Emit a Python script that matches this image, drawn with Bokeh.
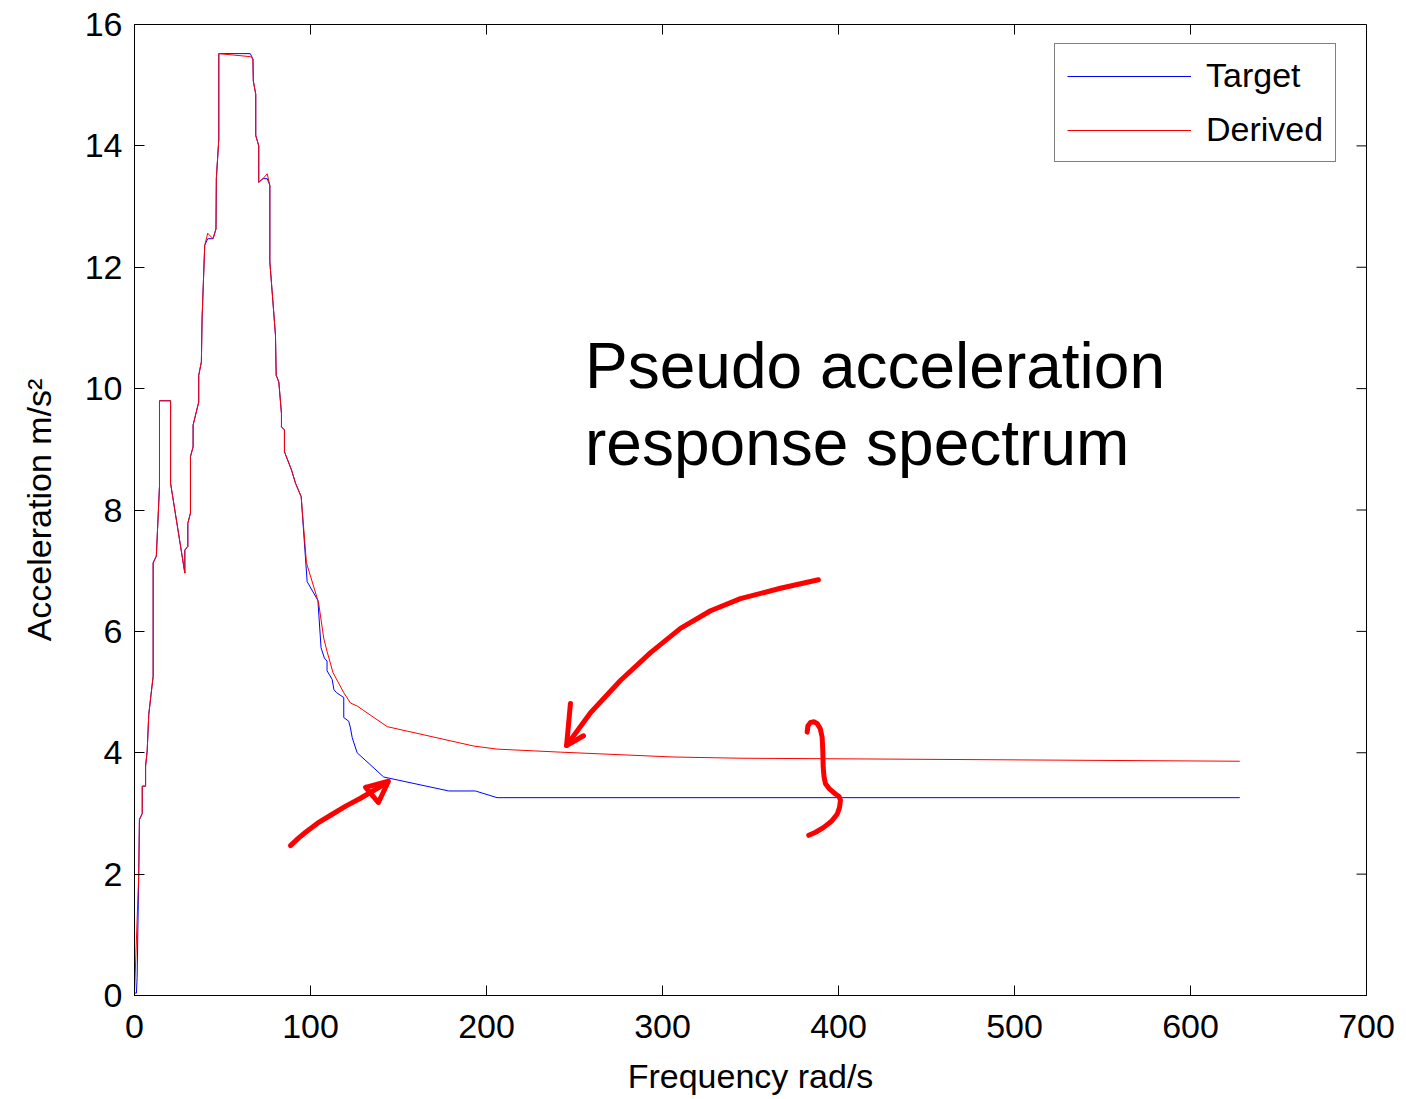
from bokeh.plotting import figure
from bokeh.models import Range1d, FixedTicker, Legend, LegendItem
from bokeh.core.properties import value
from bokeh.embed import file_html
from bokeh.resources import INLINE

# ---- data ----
target_freq = [0, 1.1, 1.5, 2.4, 2.8, 4.4, 4.4, 6.3, 6.3, 7.2, 8.1, 9.4, 10.6, 10.6, 12.4,
               14.2, 14.2, 20.5, 20.5, 28.6, 28.6, 30.3, 30.3, 31.8, 31.8, 33.3, 33.3,
               36.5, 36.5, 38.0, 38.4, 39.9, 41.6, 44.6, 46.3, 46.5, 47.9, 47.9, 65.8,
               67.3, 67.5, 68.9, 68.9, 70.6, 70.6, 73.0, 75.4, 76.9, 76.9, 80.1, 80.5,
               82.0, 83.5, 83.5, 85.2, 85.2, 89.2, 91.5, 94.7, 98.1, 104.2, 106.0, 107.9,
               109.4, 109.4, 112.3, 113.3, 114.8, 118.9, 118.9, 121.7, 122.7, 123.7,
               126.5, 141.6, 178.6, 193.7, 206.0, 628.0]
target_acc = [0.04, 0.04, 0.30, 2.00, 2.90, 3.00, 3.45, 3.45, 3.78, 4.03, 4.63, 4.96, 5.26, 7.13, 7.24,
              8.39, 9.80, 9.80, 8.44, 6.96, 7.34, 7.40, 7.78, 7.95, 8.88, 9.04, 9.40,
              9.78, 10.22, 10.44, 11.16, 12.36, 12.47, 12.47, 12.63, 13.46, 14.11, 15.52, 15.52,
              15.43, 15.07, 14.85, 14.17, 14.00, 13.40, 13.46, 13.46, 13.35, 12.09, 10.88, 10.22,
              10.11, 9.59, 9.37, 9.32, 8.96, 8.66, 8.44, 8.22, 6.82, 6.51, 5.73, 5.56,
              5.51, 5.35, 5.21, 5.04, 4.99, 4.91, 4.58, 4.52, 4.41, 4.25,
              4.00, 3.60, 3.37, 3.37, 3.26, 3.26]

derived_freq = [0, 2.4, 2.8, 4.4, 4.4, 6.3, 6.3, 7.2, 8.1, 9.4, 10.6, 10.6, 12.4,
                14.2, 14.2, 20.5, 20.5, 28.6, 28.6, 30.3, 30.3, 31.8, 31.8, 33.3, 33.3,
                36.5, 36.5, 38.0, 38.4, 39.9, 41.6, 44.6, 46.3, 46.5, 47.9, 47.9, 65.8,
                67.3, 67.5, 68.9, 68.9, 70.6, 70.6, 73.0, 75.4, 76.9, 76.9, 80.1, 80.5,
                82.0, 83.5, 83.5, 85.2, 85.2, 89.2, 91.5, 94.7, 97.7, 104.6, 107.5,
                109.4, 112.8, 118.9, 122.7, 126.5, 143.6, 192.8, 206.0, 242.0, 306.0,
                344.0, 628.0]
derived_acc = [0.03, 2.00, 2.90, 3.00, 3.45, 3.45, 3.78, 4.03, 4.63, 4.96, 5.26, 7.13, 7.24,
               8.39, 9.80, 9.80, 8.44, 6.96, 7.34, 7.40, 7.78, 7.95, 8.88, 9.04, 9.40,
               9.78, 10.22, 10.44, 11.16, 12.36, 12.56, 12.47, 12.63, 13.46, 14.11, 15.52, 15.47,
               15.43, 15.07, 14.85, 14.17, 14.00, 13.40, 13.46, 13.54, 13.35, 12.09, 10.88, 10.22,
               10.11, 9.59, 9.37, 9.32, 8.96, 8.66, 8.44, 8.22, 7.13, 6.47, 5.89,
               5.67, 5.32, 4.99, 4.82, 4.77, 4.43, 4.11, 4.06, 4.01, 3.93,
               3.91, 3.86]

x_ticks = [0, 100, 200, 300, 400, 500, 600, 700]
y_ticks = [0, 2, 4, 6, 8, 10, 12, 14, 16]

# hand-drawn annotation strokes (data coordinates)
arrow1_x = [388.6, 367.0, 344.3, 327.3, 310.2, 293.2, 276.1, 259.1, 245.5]
arrow1_y = [6.85, 6.71, 6.54, 6.34, 6.05, 5.65, 5.19, 4.66, 4.12]
head1_x = [247.7, 245.5, 255.1]
head1_y = [4.81, 4.12, 4.28]
arrow2_x = [88.6, 93.0, 97.2, 104.0, 111.4, 120.0, 128.4, 142.6]
arrow2_y = [2.47, 2.59, 2.69, 2.84, 2.97, 3.12, 3.25, 3.49]
head2_x = [131.3, 144.3, 138.6, 131.3]
head2_y = [3.43, 3.53, 3.18, 3.43]
brace_x = [382.2, 382.6, 384.1, 386.2, 387.9, 389.6, 390.7, 391.1, 391.3, 391.8, 392.6,
           395.0, 398.3, 400.3, 401.1, 400.6, 399.3, 396.0, 391.6, 387.0, 383.1]
brace_y = [4.34, 4.44, 4.50, 4.51, 4.48, 4.40, 4.26, 4.02, 3.76, 3.60, 3.49,
           3.40, 3.32, 3.28, 3.22, 3.10, 2.99, 2.87, 2.77, 2.69, 2.64]

title_lines = ["Pseudo acceleration", "response spectrum"]
title_x = [256.0, 256.0]
title_y = [10.38, 9.11]

FONT = "Liberation Sans"
FS = "34px"

W, H = 1406, 1099
BL, BR, BT, BB = 134, 40, 24, 104
p = figure(width=W, height=H, output_backend="svg", toolbar_location=None,
           x_range=Range1d(0, 700), y_range=Range1d(0, 16),
           min_border_left=BL, min_border_right=BR, min_border_top=BT, min_border_bottom=BB)
p.grid.visible = False
p.outline_line_color = "black"
p.outline_line_alpha = 1.0
p.background_fill_color = "white"
p.border_fill_color = "white"

for ax, ticks in ((p.xaxis[0], x_ticks), (p.yaxis[0], y_ticks)):
    ax.ticker = FixedTicker(ticks=ticks)
    ax.major_tick_in = 10
    ax.major_tick_out = 0
    ax.minor_tick_line_color = None
    ax.axis_line_color = "black"
    ax.major_tick_line_color = "black"
    ax.major_label_text_font = FONT
    ax.major_label_text_font_size = FS
    ax.major_label_text_color = "black"
    ax.axis_label_text_font = FONT
    ax.axis_label_text_font_size = FS
    ax.axis_label_text_font_style = "normal"
    ax.axis_label_text_color = "black"
p.xaxis[0].axis_label = "Frequency rad/s"
p.yaxis[0].axis_label = "Acceleration m/s²"
p.xaxis[0].major_label_standoff = 19
p.yaxis[0].major_label_standoff = 12
p.xaxis[0].axis_label_standoff = 16
p.yaxis[0].axis_label_standoff = 24

# inward ticks on the top and right edges of the box (10 px long)
frame_w = W - BL - BR
frame_h = H - BT - BB
tick_dx = 10 * 700 / frame_w
tick_dy = 10 * 16 / frame_h
p.segment(x0=x_ticks, y0=[16] * len(x_ticks), x1=x_ticks, y1=[16 - tick_dy] * len(x_ticks),
          line_color="black", line_width=1)
p.segment(x0=[700] * len(y_ticks), y0=y_ticks, x1=[700 - tick_dx] * len(y_ticks), y1=y_ticks,
          line_color="black", line_width=1)

r_t = p.line(target_freq, target_acc, line_color="#0000ff", line_width=1)
r_d = p.line(derived_freq, derived_acc, line_color="#ff0000", line_width=1)

# annotations
for xs, ys in ((arrow1_x, arrow1_y), (head1_x, head1_y), (arrow2_x, arrow2_y),
               (head2_x, head2_y), (brace_x, brace_y)):
    p.line(xs, ys, line_color="#ff0000", line_width=5, line_cap="round", line_join="round")

p.text(x=title_x, y=title_y, text=title_lines, text_font=value(FONT),
       text_font_size="64px", text_color="black", text_baseline="alphabetic",
       text_align="left")

legend = Legend(items=[LegendItem(label="Target", renderers=[r_t]),
                       LegendItem(label="Derived", renderers=[r_d])],
                location=(920, 833), margin=0, padding=12, spacing=15,
                glyph_width=124, glyph_height=36, label_height=36, label_standoff=15,
                label_text_font=FONT, label_text_font_size=FS, label_text_color="black",
                border_line_color="black", border_line_width=1,
                background_fill_color="white", background_fill_alpha=1.0)
p.add_layout(legend)

open("out.html", "w").write(file_html(p, INLINE))
